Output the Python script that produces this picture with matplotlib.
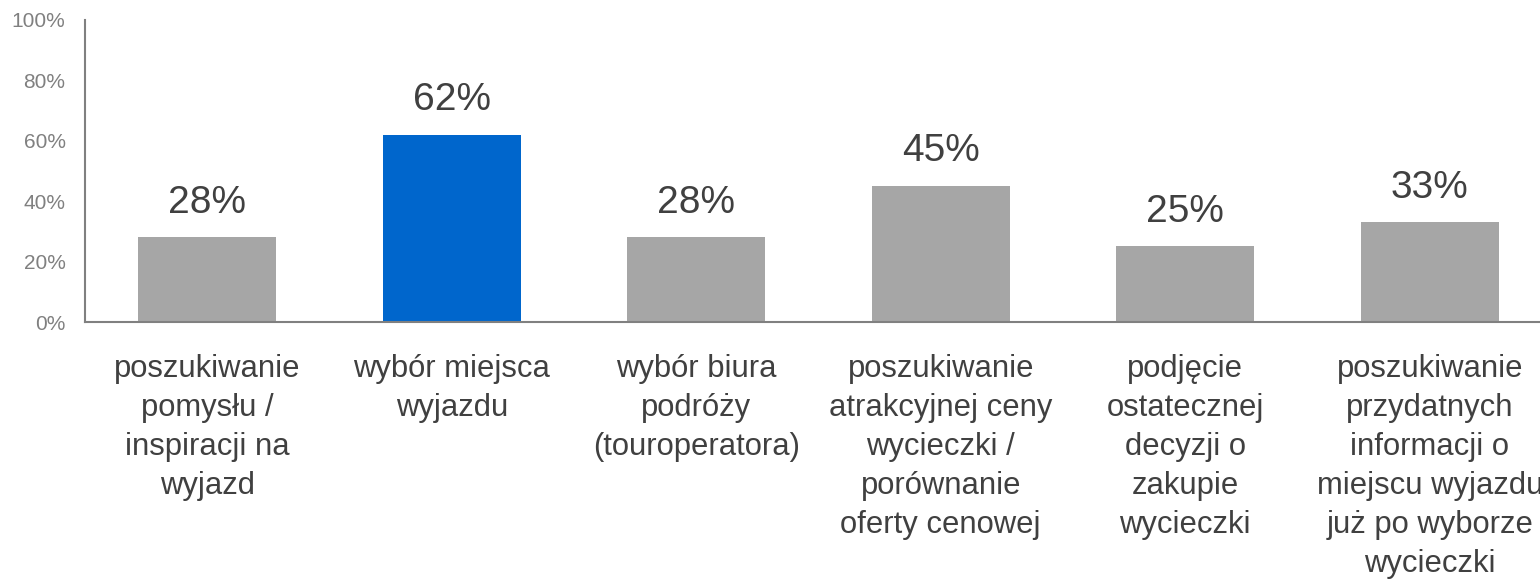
import matplotlib.pyplot as plt

plt.rcParams['font.family'] = ['Liberation Sans', 'DejaVu Sans']

categories = [
    "poszukiwanie\npomysłu /\ninspiracji na\nwyjazd",
    "wybór miejsca\nwyjazdu",
    "wybór biura\npodróży\n(touroperatora)",
    "poszukiwanie\natrakcyjnej ceny\nwycieczki /\nporównanie\noferty cenowej",
    "podjęcie\nostatecznej\ndecyzji o\nzakupie\nwycieczki",
    "poszukiwanie\nprzydatnych\ninformacji o\nmiejscu wyjazdu\njuż po wyborze\nwycieczki",
]
values = [28, 62, 28, 45, 25, 33]
colors = ['#A6A6A6', '#0066CC', '#A6A6A6', '#A6A6A6', '#A6A6A6', '#A6A6A6']

W, H = 1540, 582
fig = plt.figure(figsize=(W / 100, H / 100), dpi=100)
# axes runs a bit past the right edge, like in the original
ax = fig.add_axes([85 / W, (H - 322) / H, 1467 / W, 302 / H])

x = range(len(values))
ax.bar(x, values, width=0.565, color=colors, zorder=2)

for i, v in enumerate(values):
    ax.text(i, v + 5.5, f"{v}%", ha='center', va='bottom', fontsize=28, color='#404040')

ax.set_xlim(-0.5, len(values) - 0.5)
ax.set_ylim(0, 100)
ax.set_yticks(range(0, 101, 20))
ax.set_yticklabels([f"{t}%" for t in range(0, 101, 20)], fontsize=15, color='#808080')
ax.set_xticks(list(x))
ax.set_xticklabels(categories, fontsize=22.3, color='#404040', linespacing=1.39)
ax.tick_params(axis='x', length=0, pad=23)
ax.tick_params(axis='y', length=0, pad=14)

for s in ['top', 'right']:
    ax.spines[s].set_visible(False)
for s in ['left', 'bottom']:
    ax.spines[s].set_color('#808080')
    ax.spines[s].set_linewidth(1.5)

fig.savefig('out.png', dpi=100)
